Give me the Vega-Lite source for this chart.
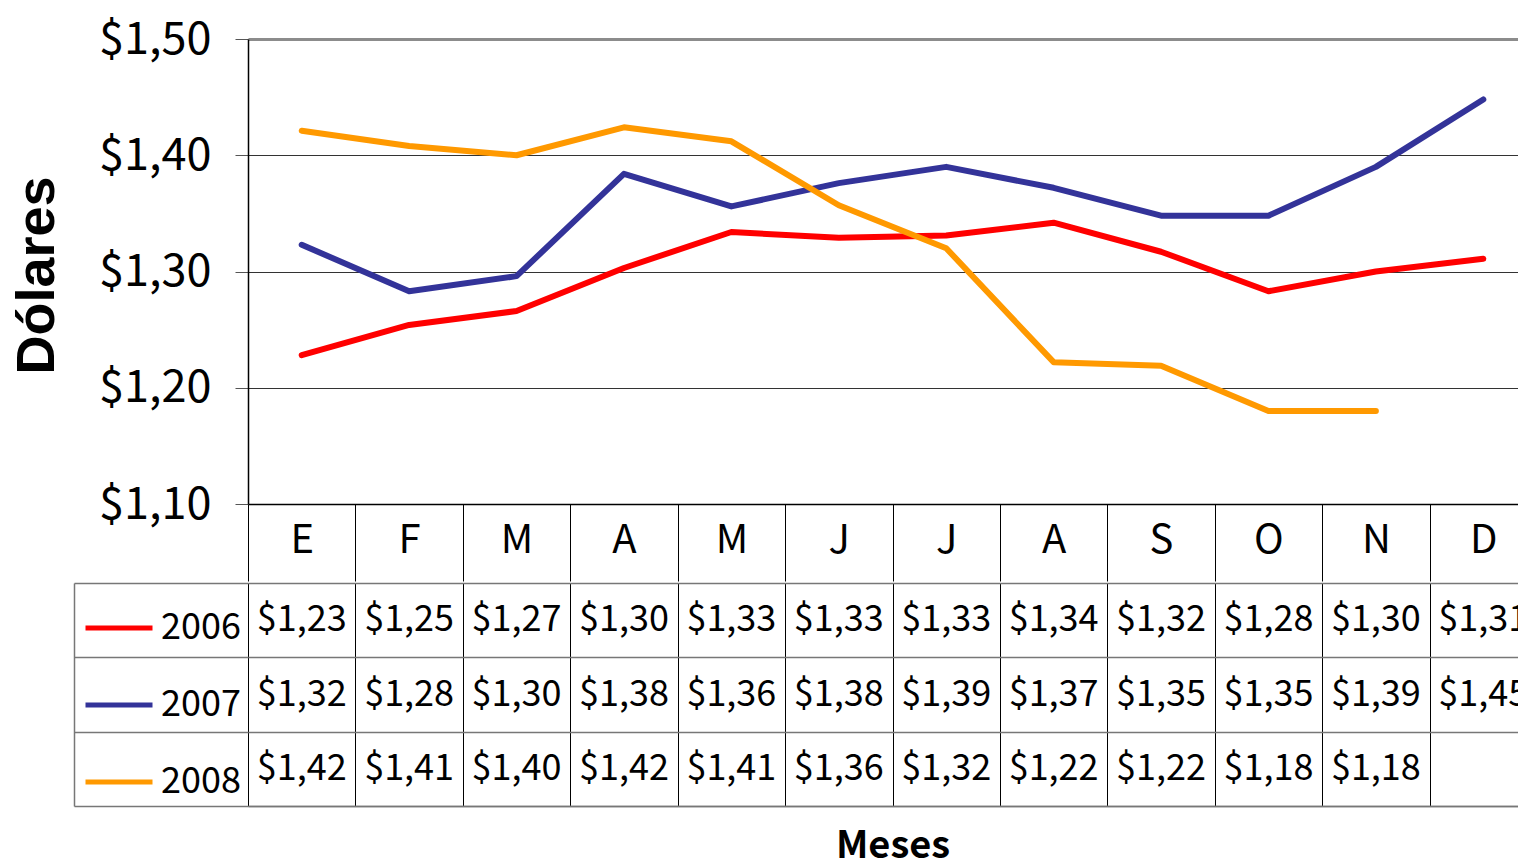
{
  "$schema": "https://vega.github.io/schema/vega-lite/v6.json",
  "padding": {"left": 9, "top": 17, "right": -20, "bottom": 0},
  "background": "white",
  "spacing": 0,
  "config": {
    "locale": {"number": {"decimal": ",", "thousands": ".", "grouping": [3], "currency": ["$", ""]}},
    "view": {"stroke": null},
    "font": "Noto Sans CJK JP, sans-serif",
    "axis": {"labelFont": "Noto Sans CJK JP, sans-serif", "labelColor": "black", "titleColor": "black"},
    "legend": {"labelFont": "Noto Sans CJK JP, sans-serif"}
  },
  "datasets": {
    "cambio": [
      {"mes": "01-E", "anio": "2006", "valor": 1.228},
      {"mes": "02-F", "anio": "2006", "valor": 1.254},
      {"mes": "03-M", "anio": "2006", "valor": 1.266},
      {"mes": "04-A", "anio": "2006", "valor": 1.303},
      {"mes": "05-M", "anio": "2006", "valor": 1.334},
      {"mes": "06-J", "anio": "2006", "valor": 1.329},
      {"mes": "07-J", "anio": "2006", "valor": 1.331},
      {"mes": "08-A", "anio": "2006", "valor": 1.342},
      {"mes": "09-S", "anio": "2006", "valor": 1.317},
      {"mes": "10-O", "anio": "2006", "valor": 1.283},
      {"mes": "11-N", "anio": "2006", "valor": 1.300},
      {"mes": "12-D", "anio": "2006", "valor": 1.311},
      {"mes": "01-E", "anio": "2007", "valor": 1.323},
      {"mes": "02-F", "anio": "2007", "valor": 1.283},
      {"mes": "03-M", "anio": "2007", "valor": 1.296},
      {"mes": "04-A", "anio": "2007", "valor": 1.384},
      {"mes": "05-M", "anio": "2007", "valor": 1.356},
      {"mes": "06-J", "anio": "2007", "valor": 1.376},
      {"mes": "07-J", "anio": "2007", "valor": 1.390},
      {"mes": "08-A", "anio": "2007", "valor": 1.372},
      {"mes": "09-S", "anio": "2007", "valor": 1.348},
      {"mes": "10-O", "anio": "2007", "valor": 1.348},
      {"mes": "11-N", "anio": "2007", "valor": 1.390},
      {"mes": "12-D", "anio": "2007", "valor": 1.448},
      {"mes": "01-E", "anio": "2008", "valor": 1.421},
      {"mes": "02-F", "anio": "2008", "valor": 1.408},
      {"mes": "03-M", "anio": "2008", "valor": 1.400},
      {"mes": "04-A", "anio": "2008", "valor": 1.424},
      {"mes": "05-M", "anio": "2008", "valor": 1.412},
      {"mes": "06-J", "anio": "2008", "valor": 1.357},
      {"mes": "07-J", "anio": "2008", "valor": 1.320},
      {"mes": "08-A", "anio": "2008", "valor": 1.222},
      {"mes": "09-S", "anio": "2008", "valor": 1.219},
      {"mes": "10-O", "anio": "2008", "valor": 1.180},
      {"mes": "11-N", "anio": "2008", "valor": 1.180}
    ]
  },
  "vconcat": [
    {
      "width": 1289,
      "height": 465,
      "data": {"name": "cambio"},
      "mark": {"type": "line", "strokeWidth": 6, "strokeCap": "round", "strokeJoin": "round"},
      "encoding": {
        "x": {
          "field": "mes", "type": "nominal", "bandPosition": 0.5,
          "scale": {"type": "band", "paddingInner": 0, "paddingOuter": 0,
                    "domain": ["01-E","02-F","03-M","04-A","05-M","06-J","07-J","08-A","09-S","10-O","11-N","12-D"]},
          "axis": {
            "orient": "bottom", "title": null, "grid": false,
            "domainColor": "black", "domainWidth": 1.5,
            "tickBand": "extent", "tickSize": 77, "tickColor": "black", "tickWidth": 1,
            "labelPadding": -41, "labelBaseline": "middle", "labelAngle": 0, "labelFontSize": 40,
            "labelOverlap": false, "labelExpr": "split(datum.label, '-')[1]"
          }
        },
        "y": {
          "field": "valor", "type": "quantitative",
          "scale": {"domain": [1.1, 1.5], "nice": false, "zero": false},
          "axis": {
            "values": [1.1, 1.2, 1.3, 1.4, 1.5], "format": "$.2f",
            "title": "Dólares", "titleFont": "Liberation Sans, Arial, sans-serif", "titleFontSize": 54, "titleFontWeight": "bold",
            "titleAngle": -90, "titleX": -195, "titleY": 236, "titleAlign": "center", "titleBaseline": "alphabetic",
            "labelFontSize": 45, "labelPadding": 24, "tickSize": 13, "tickColor": "#555", "tickWidth": 1,
            "domainColor": "black", "domainWidth": 1.5,
            "grid": true,
            "gridColor": {"condition": {"test": "datum.value >= 1.5", "value": "#8c8c8c"}, "value": "#333333"},
            "gridWidth": {"condition": {"test": "datum.value >= 1.5", "value": 3}, "value": 1}
          }
        },
        "color": {
          "field": "anio", "type": "nominal",
          "scale": {"domain": ["2006", "2007", "2008"], "range": ["#FF0000", "#333399", "#FF9900"]},
          "legend": {
            "orient": "none", "legendX": -165, "legendY": 553, "title": null,
            "symbolType": "stroke", "symbolSize": 4489, "symbolStrokeWidth": 5,
            "labelFontSize": 36, "labelColor": "black", "labelOffset": 6, "rowPadding": 23,
            "padding": 0, "labelLimit": 0
          }
        }
      }
    },
    {
      "width": 1289,
      "height": 223,
      "data": {"name": "cambio"},
      "mark": {"type": "text", "fontSize": 36, "color": "black"},
      "encoding": {
        "x": {
          "field": "mes", "type": "nominal",
          "scale": {"type": "band", "paddingInner": 0, "paddingOuter": 0,
                    "domain": ["01-E","02-F","03-M","04-A","05-M","06-J","07-J","08-A","09-S","10-O","11-N","12-D"]},
          "axis": {
            "orient": "bottom", "title": "Meses",
            "titleFont": "Noto Sans CJK JP, sans-serif",
            "titleFontSize": 38, "titleFontWeight": "bold", "titlePadding": 51, "titleBaseline": "alphabetic",
            "labels": false, "ticks": false,
            "domainColor": "#777777", "domainWidth": 1.5,
            "grid": true, "gridColor": "black", "gridWidth": 1, "tickBand": "extent"
          }
        },
        "y": {
          "field": "anio", "type": "nominal",
          "scale": {"type": "band", "paddingInner": 0, "paddingOuter": 0, "domain": ["2006", "2007", "2008"]},
          "axis": {
            "orient": "left", "offset": 174, "title": null, "labels": false,
            "domainColor": "#777777", "domainWidth": 1.5,
            "tickBand": "extent", "tickSize": -174, "tickColor": "#777777", "tickWidth": 1.5,
            "grid": true, "gridColor": "#777777", "gridWidth": 1.5
          }
        },
        "text": {"field": "valor", "type": "quantitative", "format": "$.2f"}
      }
    }
  ]
}
